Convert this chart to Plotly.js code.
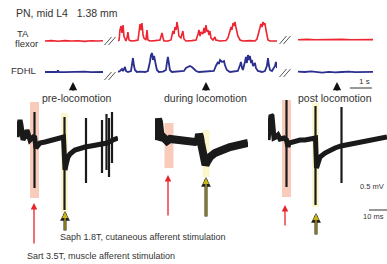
<!DOCTYPE html>
<html><head><meta charset="utf-8">
<script src="https://cdn.plot.ly/plotly-3.0.1.min.js"></script>
<style>html,body{margin:0;padding:0;background:#fff}#chart{width:387px;height:264px}</style>
</head><body><div id="chart"></div>
<script>
// ---------- DATA ----------
// EMG envelopes: [time (s), amplitude (a.u.)]
const taPre = [[0,0],[0.3,0.02],[0.6,-0.01],[0.9,0.02],[1.2,0],[1.5,0.01],[1.8,-0.02],[2.1,0.01],[2.4,0],[2.64,0.01]];
const fdhlPre = [[0,0],[0.3,0.01],[0.55,0],[0.59,0.08],[0.63,0],[0.9,-0.01],[1.2,0.01],[1.5,0],[1.8,0.02],[2.1,-0.01],[2.4,0.01],[2.64,0]];
const taDuring = [[0,0],[.05,.05],[.09,.55],[.14,.75],[.18,.4],[.23,.8],[.27,.25],[.32,.05],[.36,0],[.41,.15],[.45,.45],[.5,.05],[.59,0],[.77,.02],[.91,.05],[.95,.4],[1.0,.85],[1.05,.55],[1.09,.9],[1.14,.3],[1.18,.15],[1.27,.05],[1.32,.55],[1.36,.05],[1.45,0],[1.68,.02],[1.91,.05],[1.95,.2],[2.0,.4],[2.05,.15],[2.09,0],[2.27,0],[2.41,.05],[2.45,.25],[2.5,.5],[2.55,.35],[2.59,.7],[2.64,.55],[2.68,.95],[2.73,.65],[2.77,.25],[2.86,.15],[2.95,.5],[3.0,.1],[3.09,0],[3.36,.02],[3.55,.05],[3.64,.35],[3.68,.55],[3.73,.25],[3.77,.45],[3.86,.35],[3.91,.65],[3.95,.4],[4.0,.8],[4.05,.45],[4.09,.55],[4.14,.3],[4.18,.5],[4.23,.15],[4.32,.05],[4.41,.2],[4.45,.05],[4.64,0],[4.91,.02],[5.0,.15],[5.09,.45],[5.14,.7],[5.18,.55],[5.23,.9],[5.27,.75],[5.32,.95],[5.36,.7],[5.41,.45],[5.45,.25],[5.55,.05],[5.68,0],[6.0,.02],[6.23,0],[6.32,.1],[6.36,.3],[6.41,.55],[6.45,.65],[6.5,.85],[6.55,.7],[6.59,.95],[6.64,.8],[6.68,.9],[6.73,.55],[6.77,.25],[6.82,.05],[6.91,0],[7.23,0]];
const fdhlDuring = [[0,0],[.09,.05],[.18,.15],[.23,.05],[.32,.25],[.36,.05],[.45,0],[.59,.05],[.64,.4],[.68,.7],[.73,.3],[.77,.1],[.86,0],[1.0,.02],[1.23,0],[1.36,.05],[1.45,.5],[1.5,.85],[1.55,.95],[1.59,.6],[1.64,.8],[1.68,.45],[1.73,.3],[1.77,.1],[1.86,0],[2.05,.02],[2.18,.1],[2.23,.5],[2.27,.75],[2.32,.4],[2.36,.1],[2.45,0],[2.82,.02],[3.0,.05],[3.09,.2],[3.18,.25],[3.27,.3],[3.36,.25],[3.45,.15],[3.55,.05],[3.68,0],[4.18,.02],[4.36,.05],[4.45,.3],[4.55,.5],[4.59,.4],[4.64,.6],[4.73,.5],[4.82,.55],[4.86,.35],[4.95,.1],[5.09,0],[5.36,.02],[5.45,.05],[5.55,.35],[5.59,.5],[5.64,.2],[5.68,.1],[5.77,.5],[5.82,.75],[5.86,.45],[5.91,.85],[5.95,.6],[6.0,.8],[6.05,.45],[6.09,.6],[6.14,.3],[6.23,.45],[6.27,.2],[6.36,.05],[6.55,0],[6.68,.05],[6.77,.3],[6.82,.7],[6.86,.35],[6.91,.1],[7.0,.05],[7.14,.3],[7.18,.5],[7.23,.2]];
const taPost = [[0,0.06],[0.4,0.08],[0.8,0.06],[1.2,0.07],[1.6,0.06],[2.0,0.08],[2.4,0.06],[2.8,0.07],[3.2,0.06],[3.41,0.07]];
const fdhlPost = [[0,0.02],[0.3,0],[0.6,0.03],[0.9,0],[1.1,-0.03],[1.4,0.01],[1.7,-0.02],[2.0,0],[2.3,0.02],[2.6,-0.01],[2.9,0.01],[3.2,0.03],[3.41,0.01]];
// Intracellular slow potential: [time (ms), potential (mV, relative)]
const icPre = [[0,.05],[.5,.5],[1,.85],[1.5,.9],[2,.65],[2.5,.25],[3,-.1],[3.5,0],[4.5,.1],[5,.4],[5.5,.2],[6.5,-.1],[7.5,0],[8.75,.1],[9.5,-.5],[10,-.45],[10.5,-.35],[11.5,-.25],[14,-.2],[16.5,-.15],[19,-.1],[21.5,0],[23.25,.05],[24,-1.6],[24.5,-1.35],[25.5,-.95],[26.5,-.8],[29,-.6],[31.5,-.5],[34,-.45],[37,-.4],[40,-.35],[42.5,-.3],[45,-.25],[48,-.1],[50.5,0]];
const icDuring = [[0,-.1],[.5,.5],[1,.85],[1.5,.95],[2,.8],[2.5,.25],[3,-.1],[4,.05],[5,-.05],[6,-.15],[7.5,-.05],[10,-.1],[12.5,-.15],[15,-.1],[17.5,-.15],[20,-.2],[21.5,-.15],[22,.2],[22.5,.05],[23,-.25],[23.5,-.6],[24.5,-1.1],[25.25,-1.35],[26,-1.2],[27.5,-.95],[30,-.75],[32.5,-.6],[35,-.55],[37.5,-.45],[40,-.4],[42.5,-.35],[45,-.3],[46.5,-.25]];
const icPost = [[0,-.1],[.5,.4],[1,1.0],[1.5,1.15],[2,1.1],[2.5,.4],[3,0],[4,.05],[5,.15],[6,-.05],[8,0],[9.25,-.1],[10,-.45],[10.5,-.25],[12,-.2],[14,-.15],[16,-.1],[18.5,-.1],[21,-.05],[23.75,0],[24.25,-1.5],[25,-1.2],[26,-.95],[28.5,-.75],[31,-.6],[33.5,-.5],[36.5,-.4],[41,-.3],[46,-.2],[51,-.1],[56,0],[59.5,.05]];
// fast deflections (stimulus artifacts and spikes): [time (ms), peak (mV), trough (mV)]
const spikesPre = [[8.75,1.3,-2.5],[23.75,1.05,-3.6],[34.5,1.0,-2.25],[42.5,.9,-1.75],[44.75,1.2,-1.6],[46,1.0,-1.95],[47.5,1.3,-1.25]];
const spikesPost = [[9.25,1.9,-2.45],[23.75,1.6,-3.35],[36.75,1.55,-2.25]];
// stimulus times (ms) in each intracellular panel: pre, during, post
const sartStim = [8.75, 7.0, 9.25];
const saphStim = [23.75, 25.5, 23.75];
// labels
const phaseLabels = ['pre-locomotion', 'during locomotion', 'post locomotion'];
const titleText = 'PN, mid L4\u00a0\u00a0\u00a01.38 mm';
const sartLabel = 'Sart 3.5T, muscle afferent stimulation';
const saphLabel = 'Saph 1.8T, cutaneous afferent stimulation';

// ---------- LAYOUT HELPERS ----------
const W = 387, H = 264;
const px = x => x / W, py = y => 1 - y / H;
const RED = '#ec2530', BLUE = '#2b2f8e', BLACK = '#1a1a1a';
const FONT = 'Liberation Sans, Arial, sans-serif';

function tr(data, xa, ya, color, width) {
  return {x: data.map(d => d[0]), y: data.map(d => d[1]), xaxis: xa, yaxis: ya,
    type: 'scatter', mode: 'lines', line: {color: color, width: width},
    hoverinfo: 'skip', showlegend: false};
}
function spk(data, xa, ya, width) {
  const x = [], y = [];
  data.forEach(d => { x.push(d[0], d[0], null); y.push(d[1], d[2], null); });
  return {x: x, y: y, xaxis: xa, yaxis: ya, type: 'scatter', mode: 'lines',
    line: {color: BLACK, width: width}, hoverinfo: 'skip', showlegend: false, connectgaps: false};
}
const traces = [
  tr(taPre, 'x', 'y', RED, 1.6), tr(taDuring, 'x2', 'y', RED, 1.6), tr(taPost, 'x3', 'y', RED, 1.6),
  tr(fdhlPre, 'x', 'y2', BLUE, 1.8), tr(fdhlDuring, 'x2', 'y2', BLUE, 1.8), tr(fdhlPost, 'x3', 'y2', BLUE, 1.8),
  tr(icPre, 'x4', 'y3', BLACK, 5), tr(icDuring, 'x5', 'y3', BLACK, 8), tr(icPost, 'x6', 'y3', BLACK, 5),
  spk(spikesPre, 'x4', 'y3', 2.2), spk(spikesPost, 'x6', 'y3', 2.2)
];

function ax(domain, range, anchor) {
  return {domain: domain, range: range, visible: false, fixedrange: true, anchor: anchor,
    showgrid: false, zeroline: false};
}
const layout = {
  width: W, height: H, margin: {l: 0, r: 0, t: 0, b: 0},
  paper_bgcolor: '#fff', plot_bgcolor: 'rgba(0,0,0,0)', showlegend: false,
  font: {family: FONT, color: '#333', size: 10},
  xaxis: ax([px(45), px(103)], [0, 2.64], 'y'),
  xaxis2: ax([px(118), px(277)], [0, 7.23], 'y'),
  xaxis3: ax([px(298), px(373)], [0, 3.41], 'y'),
  yaxis: ax([py(45), py(15)], [-0.2, 1.3], 'x'),
  yaxis2: ax([py(80), py(48)], [-0.4, 1.2], 'x'),
  xaxis4: ax([px(17), px(118)], [0, 50.5], 'y3'),
  xaxis5: ax([px(155), px(248)], [0, 46.5], 'y3'),
  xaxis6: ax([px(268), 1], [0, 59.5], 'y3'),
  yaxis3: ax([py(215), py(95)], [-3.85, 2.15], 'x4'),
  shapes: [], annotations: []
};

// highlight windows around stimuli
const pinkY = [[102, 198], [123, 168], [100, 197]];
const yelY = [[113, 212], [130, 177], [103, 207]];
['x4', 'x5', 'x6'].forEach((xa, i) => {
  layout.shapes.push({type: 'rect', layer: 'below', xref: xa, yref: 'paper',
    x0: sartStim[i] - 2.25, x1: sartStim[i] + 2.25, y0: py(pinkY[i][1]), y1: py(pinkY[i][0]),
    fillcolor: '#f8cbbb', line: {width: 0}});
  layout.shapes.push({type: 'rect', layer: 'below', xref: xa, yref: 'paper',
    x0: saphStim[i] - 1.75, x1: saphStim[i] + 1.75, y0: py(yelY[i][1]), y1: py(yelY[i][0]),
    fillcolor: '#fcf6cd', line: {width: 0}});
});

// break marks
function brk(cx, cy) {
  [-2, 2].forEach(o => layout.shapes.push({type: 'line', xref: 'paper', yref: 'paper',
    x0: px(cx + o - 3.5), y0: py(cy + 4), x1: px(cx + o + 3.5), y1: py(cy - 4),
    line: {color: '#555', width: 1}}));
}
brk(110, 41); brk(110, 76); brk(285, 40); brk(285, 73);

// scale bars
layout.shapes.push({type: 'line', xref: 'x3', yref: 'paper', x0: 2.36, x1: 3.36, y0: py(88), y1: py(88), line: {color: '#333', width: 1}});
layout.shapes.push({type: 'line', xref: 'paper', yref: 'paper', x0: px(369), x1: px(388), y0: py(210), y1: py(210), line: {color: '#333', width: 1}});

// texts
function txt(s, x, y, size, anchor) {
  layout.annotations.push({text: s, x: px(x), y: py(y), xref: 'paper', yref: 'paper', showarrow: false,
    xanchor: anchor || 'left', yanchor: 'middle', font: {size: size, color: '#333', family: FONT}});
}
txt(titleText, 14, 13, 10.5);
txt('TA', 15, 33, 9.5); txt('flexor', 13, 44, 9.5);
txt('FDHL', 9, 70, 9.5);
txt(phaseLabels[0], 77, 98, 10.5, 'center');
txt(phaseLabels[1], 205, 98, 10.5, 'center');
txt(phaseLabels[2], 335, 98, 10.5, 'center');
txt('1 s', 372, 82, 8, 'right');
txt('0.5 mV', 386, 186, 7.5, 'right');
txt('10 ms', 386, 216, 7.5, 'right');
txt(saphLabel, 58, 237, 9);
txt(sartLabel, 25, 256, 9);

// arrows
function arrow(x, yHead, yTail, color, w, size) {
  layout.annotations.push({text: '', x: px(x), y: py(yHead), xref: 'paper', yref: 'paper',
    showarrow: true, ax: 0, ay: yTail - yHead, arrowhead: 2, arrowsize: size, arrowwidth: w,
    arrowcolor: color, standoff: 0, startstandoff: 0});
}
arrow(73, 82, 92, '#111', 2.2, 0.75);
arrow(206, 82, 92, '#111', 2.2, 0.75);
arrow(337, 82, 92, '#111', 2.2, 0.75);
// Sart (red)
arrow(34, 203, 245, '#e8232c', 1.3, 1.0);
arrow(168, 175, 217, '#e8232c', 1.3, 1.0);
arrow(285, 205, 227, '#e8232c', 1.3, 1.0);
// Saph (yellow, outlined)
[[65, 211, 232], [206, 177, 218], [316, 213, 236]].forEach(a => {
  arrow(a[0], a[1], a[2], '#222', 3, 0.65);
  arrow(a[0], a[1] + 1, a[2] - 0.5, '#c8b415', 1.2, 1.0);
});

Plotly.newPlot('chart', traces, layout, {staticPlot: true, displayModeBar: false});
</script></body></html>
